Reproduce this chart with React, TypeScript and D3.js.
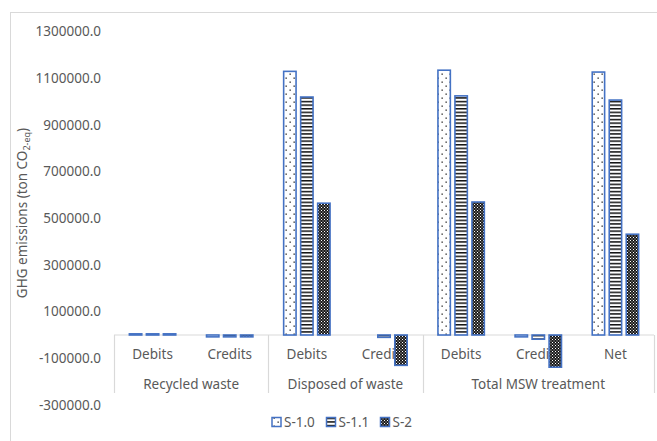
import React from "react";
import * as d3 from "d3";

// Categories (level 1) with their parent groups (level 2)
const categories = ["Debits", "Credits", "Debits", "Credits", "Debits", "Credits", "Net"];
const groups = [
  { name: "Recycled waste", span: 2 },
  { name: "Disposed of waste", span: 2 },
  { name: "Total MSW treatment", span: 3 },
];
const seriesNames = ["S-1.0", "S-1.1", "S-2"];

// GHG emissions (ton CO2-eq) per category for each scenario
const s10 = [5000, -8000, 1130000, 0, 1135000, -8000, 1127000];
const s11 = [5000, -8000, 1020000, -10000, 1025000, -18000, 1007000];
const s2 = [5000, -8000, 565000, -130000, 570000, -138000, 432000];
const seriesValues = [s10, s11, s2];

const yTicks = [1300000, 1100000, 900000, 700000, 500000, 300000, 100000, -100000, -300000];

const W = 657;
const H = 441;
const plotLeft = 114;
const plotRight = 654;
const plotTop = 31.7;
const plotBottom = 405;

const FONT = "'Noto Sans', 'Open Sans', sans-serif";
const TEXT = "#595959";
const BLUE = "#4472C4";
const GRID = "#d9d9d9";

const patternIds = ["pat-dots", "pat-hlines", "pat-checker"];

export default function App() {
  const y = d3.scaleLinear().domain([-300000, 1300000]).range([plotBottom, plotTop]);
  const idx = categories.map((_, i) => String(i));
  const x0 = d3.scaleBand<string>().domain(idx).range([plotLeft, plotRight]);
  const x1 = d3
    .scaleBand<string>()
    .domain(seriesNames)
    .range([-25.5, 25.5])
    .paddingInner(3 / 17)
    .paddingOuter(1.5 / 17);
  const zeroY = y(0);
  const sw = 1.6;

  // group boundaries on the category axis
  let acc = 0;
  const groupBounds = groups.map((g) => {
    const start = acc;
    acc += g.span;
    return { ...g, x0: x0(String(start))!, x1: x0(String(acc - 1))! + x0.bandwidth() };
  });
  const axisBottom = 393;

  return (
    <svg
      width={W}
      height={H}
      style={{ position: "absolute", left: 0, top: 0, background: "#fff" }}
      fontFamily={FONT}
    >
      <defs>
        <pattern id="pat-dots" width={8} height={8} patternUnits="userSpaceOnUse">
          <rect width={8} height={8} fill="#fff" />
          <rect x={1.5} y={1.5} width={1.3} height={1.3} fill="#222" />
          <rect x={5.5} y={5.5} width={1.3} height={1.3} fill="#222" />
        </pattern>
        <pattern id="pat-hlines" width={4} height={3.6} patternUnits="userSpaceOnUse">
          <rect width={4} height={3.6} fill="#fff" />
          <rect y={0} width={4} height={1.5} fill="#111" />
        </pattern>
        <pattern id="pat-checker" width={3} height={3} patternUnits="userSpaceOnUse">
          <rect width={3} height={3} fill="#1a1a1a" />
          <rect x={0} y={0} width={1} height={1} fill="#fff" />
          <rect x={1.5} y={1.5} width={1} height={1} fill="#ddd" />
        </pattern>
      </defs>

      {/* chart border */}
      <rect x={10.5} y={12.5} width={W} height={H} fill="none" stroke={GRID} strokeWidth={1} />

      {/* y tick labels */}
      {yTicks.map((t) => (
        <text
          key={t}
          x={101}
          y={y(t)}
          dy="0.35em"
          textAnchor="end"
          fontSize={13.5}
          fill={TEXT}
        >
          {t.toFixed(1)}
        </text>
      ))}

      {/* y axis title */}
      <text
        transform={`translate(27,213) rotate(-90)`}
        textAnchor="middle"
        fontSize={13.5}
        fill={TEXT}
      >
        GHG emissions (ton CO
        <tspan fontSize={9} dy={3}>2-eq</tspan>
        <tspan dy={-3}>)</tspan>
      </text>

      {/* category axis level 1 labels */}
      {categories.map((c, i) => (
        <text
          key={"c" + i}
          x={x0(String(i))! + x0.bandwidth() / 2}
          y={354}
          dy="0.35em"
          textAnchor="middle"
          fontSize={13.5}
          fill={TEXT}
        >
          {c}
        </text>
      ))}

      {/* category axis level 2 labels and separators */}
      {groupBounds.map((g) => (
        <text
          key={g.name}
          x={(g.x0 + g.x1) / 2}
          y={384}
          dy="0.35em"
          textAnchor="middle"
          fontSize={13.5}
          fill={TEXT}
        >
          {g.name}
        </text>
      ))}
      {[groupBounds[0].x0, ...groupBounds.map((g) => g.x1)].map((xv, i) => (
        <line
          key={"sep" + i}
          x1={Math.round(xv) + 0.5}
          x2={Math.round(xv) + 0.5}
          y1={zeroY}
          y2={axisBottom}
          stroke={GRID}
          strokeWidth={1.2}
        />
      ))}
      <line x1={plotLeft} x2={plotRight} y1={zeroY} y2={zeroY} stroke={GRID} strokeWidth={1.2} />

      {/* bars */}
      {seriesValues.map((vals, si) =>
        vals.map((v, ci) => {
          const bx = x0(String(ci))! + x0.bandwidth() / 2 + x1(seriesNames[si])!;
          const top = Math.min(y(v), zeroY);
          const h = Math.abs(y(v) - zeroY);
          if (h <= 0) return null;
          return (
            <rect
              key={si + "-" + ci}
              x={bx + sw / 2}
              y={top}
              width={x1.bandwidth() - sw}
              height={h}
              fill={`url(#${patternIds[si]})`}
              stroke={BLUE}
              strokeWidth={sw}
            />
          );
        })
      )}

      {/* legend */}
      {seriesNames.map((s, i) => {
        const lx = [272, 326.5, 380.5][i];
        return (
          <g key={s}>
            <rect
              x={lx}
              y={417.5}
              width={9}
              height={9}
              fill={`url(#${patternIds[i]})`}
              stroke={BLUE}
              strokeWidth={1.5}
            />
            <text x={lx + 12} y={422} dy="0.35em" fontSize={13.5} fill={TEXT}>
              {s}
            </text>
          </g>
        );
      })}
    </svg>
  );
}
